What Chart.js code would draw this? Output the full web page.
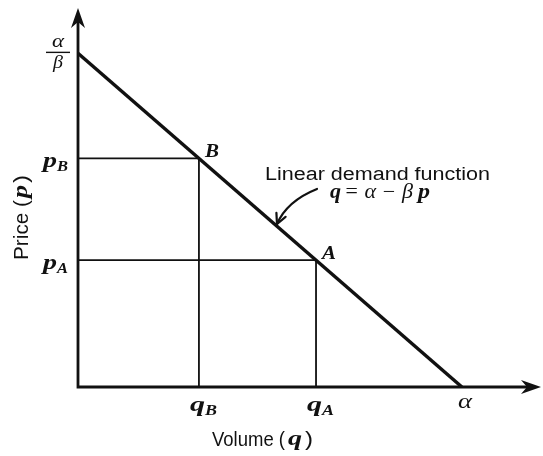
<!DOCTYPE html>
<html>
<head>
<meta charset="utf-8">
<script src="https://cdn.jsdelivr.net/npm/chart.js@4/dist/chart.umd.min.js"></script>
<style>
  html, body { margin: 0; padding: 0; background: #fff; }
  #wrap { width: 543px; height: 456px; position: relative; }
</style>
</head>
<body>
<div id="wrap"><canvas id="c"></canvas></div>
<script>
// demand q = alpha - beta * p  (units picked so alpha = 100, alpha/beta = 100)
const alpha = 100;
const beta = 1;
const pointNames = ['B', 'A'];
const pointQ = [31.5, 62];
const pointP = [68.5, 38];
const xTickLabels = [['q', 'B'], ['q', 'A']];
const xTickValues = [31.5, 62];
const yTickLabels = [['p', 'B'], ['p', 'A']];
const yTickValues = [68.5, 38];
const xMax = 120.6;
const yMax = 113;

const INK = '#111';
const SERIF = '"Liberation Serif"';
const SANS = '"Liberation Sans"';

const demandLine = [{ x: 0, y: alpha / beta }, { x: alpha, y: 0 }];
const guides = pointNames.map((n, i) => ({
    label: 'guide ' + n,
    data: [{ x: 0, y: pointP[i] }, { x: pointQ[i], y: pointP[i] }, { x: pointQ[i], y: 0 }],
    borderColor: INK,
    borderWidth: 1.8,
    pointRadius: 0,
    showLine: true,
    fill: false,
    tension: 0
}));

// text squeezed/stretched to a given width, left edge at x, baseline at y
function fitText(ctx, text, x, y, w, font) {
    ctx.font = font;
    ctx.textAlign = 'left';
    ctx.textBaseline = 'alphabetic';
    const m = ctx.measureText(text).width;
    ctx.save();
    ctx.translate(x, y);
    ctx.scale(w / m, 1);
    ctx.fillText(text, 0, 0);
    ctx.restore();
}

// symbol with subscript: base spans [x, x+w1], sub spans [x+w1, x+w1+w2]
function subText(ctx, base, sub, x, y, w1, w2) {
    fitText(ctx, base, x, y, w1, 'italic bold 22px ' + SERIF);
    fitText(ctx, sub, x + w1, y + 4, w2, 'italic bold 15px ' + SERIF);
}

function arrowHead(ctx, tx, ty, dir) {
    ctx.save();
    ctx.translate(tx, ty);
    if (dir === 'right') ctx.rotate(Math.PI / 2);
    ctx.beginPath();
    ctx.moveTo(0, 0);
    ctx.lineTo(-7, 20);
    ctx.lineTo(0, 14);
    ctx.lineTo(7, 20);
    ctx.closePath();
    ctx.fill();
    ctx.restore();
}

const decor = {
    id: 'decor',
    afterDatasetsDraw(chart) {
        const { ctx, scales: { x, y } } = chart;
        const x0 = x.getPixelForValue(0), y0 = y.getPixelForValue(0);
        const xe = x.getPixelForValue(xMax), ye = y.getPixelForValue(yMax);
        ctx.save();
        ctx.strokeStyle = INK;
        ctx.fillStyle = INK;

        // axes with arrows
        ctx.lineWidth = 2.8;
        ctx.beginPath();
        ctx.moveTo(x0, ye + 6);
        ctx.lineTo(x0, y0);
        ctx.lineTo(xe - 6, y0);
        ctx.stroke();
        arrowHead(ctx, x0, ye - 2, 'up');
        arrowHead(ctx, xe, y0, 'right');

        // alpha/beta on the price axis
        const yf = y.getPixelForValue(alpha / beta);
        ctx.lineWidth = 1.4;
        ctx.beginPath();
        ctx.moveTo(x0 - 32, yf - 1);
        ctx.lineTo(x0 - 8, yf - 1);
        ctx.stroke();
        fitText(ctx, 'α', x0 - 26, yf - 6, 12, 'italic 19px ' + SERIF);
        fitText(ctx, 'β', x0 - 25, yf + 15, 10, 'italic 19px ' + SERIF);

        yTickLabels.forEach((l, i) => {
            subText(ctx, l[0], l[1], x0 - 35, y.getPixelForValue(yTickValues[i]) + 9, 14, 11);
        });
        xTickLabels.forEach((l, i) => {
            subText(ctx, l[0], l[1], x.getPixelForValue(xTickValues[i]) - 9, y0 + 24, 15, 12);
        });
        fitText(ctx, 'α', x.getPixelForValue(alpha) - 4, y0 + 21, 14, 'italic 20px ' + SERIF);

        // point names
        pointNames.forEach((n, i) => {
            fitText(ctx, n, x.getPixelForValue(pointQ[i]) + 6, y.getPixelForValue(pointP[i]) - 1, 14,
                'italic bold 19px ' + SERIF);
        });

        // annotation
        fitText(ctx, 'Linear demand function', x0 + 187, y0 - 207, 225, '18px ' + SANS);
        fitText(ctx, 'q', x0 + 252, y0 - 189, 11, 'italic bold 20px ' + SERIF);
        fitText(ctx, '= α − β', x0 + 266, y0 - 189, 69, 'italic 20px ' + SERIF);
        fitText(ctx, 'p', x0 + 340, y0 - 189, 12, 'italic bold 20px ' + SERIF);

        // curved pointer to the demand line
        const sx = x0 + 239, sy = y0 - 198;
        const cx = x0 + 209, cy = y0 - 186;
        const ex = x0 + 199, ey = y0 - 163;
        ctx.lineWidth = 2.2;
        ctx.lineCap = 'round';
        ctx.beginPath();
        ctx.moveTo(sx, sy);
        ctx.quadraticCurveTo(cx, cy, ex, ey);
        ctx.stroke();
        const ang = Math.atan2(ey - cy, ex - cx);
        ctx.save();
        ctx.translate(ex, ey);
        ctx.rotate(ang);
        ctx.beginPath();
        ctx.moveTo(-10, -5);
        ctx.lineTo(0, 0);
        ctx.lineTo(-10, 5);
        ctx.stroke();
        ctx.restore();

        // axis titles
        fitText(ctx, 'Volume (', x0 + 134, y0 + 59, 73, '20px ' + SANS);
        fitText(ctx, 'q', x0 + 210, y0 + 58, 14, 'italic bold 21px ' + SERIF);
        fitText(ctx, ')', x0 + 227, y0 + 59, 8, '20px ' + SANS);

        ctx.save();
        ctx.translate(28, 260);
        ctx.rotate(-Math.PI / 2);
        fitText(ctx, 'Price (', 0, 0, 60, '20px ' + SANS);
        fitText(ctx, 'p', 62, -1, 13, 'italic bold 21px ' + SERIF);
        fitText(ctx, ')', 77, 0, 8, '20px ' + SANS);
        ctx.restore();

        ctx.restore();
    }
};

new Chart(document.getElementById('c'), {
    type: 'scatter',
    data: {
        datasets: [
            {
                label: 'Linear demand function',
                data: demandLine,
                borderColor: INK,
                borderWidth: 3.4,
                pointRadius: 0,
                showLine: true,
                fill: false,
                tension: 0
            },
            ...guides
        ]
    },
    options: {
        responsive: true,
        maintainAspectRatio: false,
        animation: false,
        layout: { padding: { left: 78, right: 2, top: 10, bottom: 69 } },
        plugins: { legend: { display: false }, tooltip: { enabled: false } },
        scales: {
            x: { type: 'linear', min: 0, max: xMax, display: false },
            y: { type: 'linear', min: 0, max: yMax, display: false }
        }
    },
    plugins: [decor]
});
</script>
</body>
</html>
